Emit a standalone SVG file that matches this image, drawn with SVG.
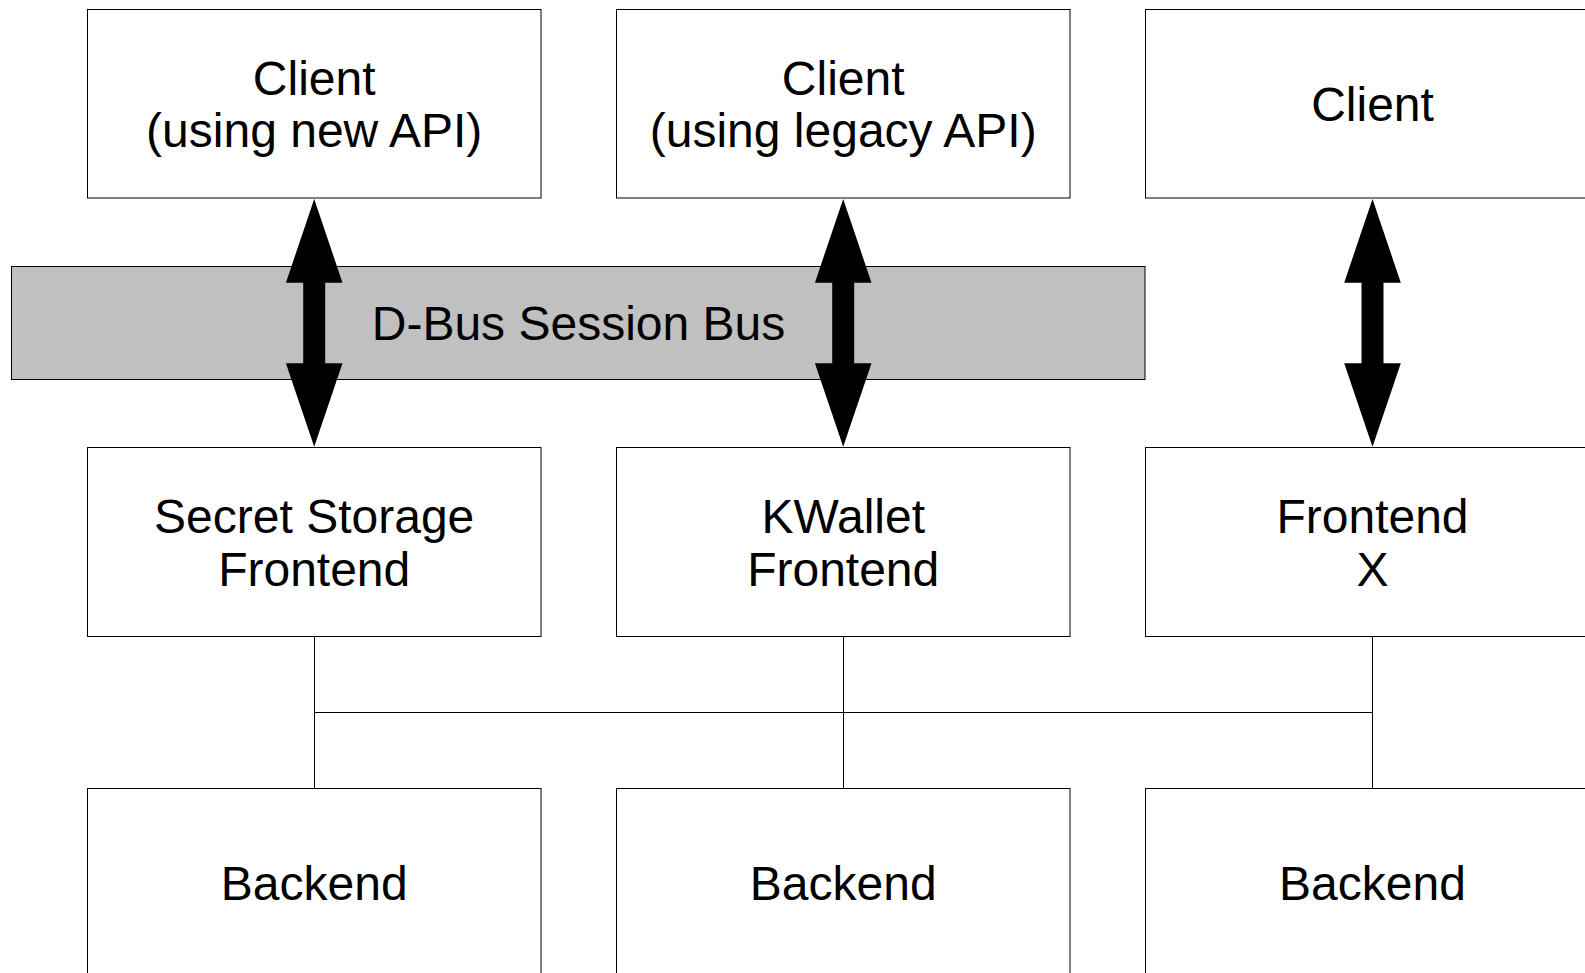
<svg xmlns="http://www.w3.org/2000/svg" xmlns:xlink="http://www.w3.org/1999/xlink" width="1585" height="973" viewBox="0 0 1585 973">
<style>
  .box { fill: #ffffff; stroke: #000000; stroke-width: 1; }
  .bus { fill: #c0c0c0; stroke: #000000; stroke-width: 1; }
  .lbl { font-family: "Liberation Sans", Arial, sans-serif; font-size: 48px; fill: #000000; text-anchor: middle; }
  .wire { stroke: #000000; stroke-width: 1; fill: none; }
  .arr { fill: #000000; stroke: none; }
</style>
<defs>
  <path id="dblarrow" d="M0,199 L28.3,282.7 L11,282.7 L11,363.3 L28.3,363.3 L0,446.7 L-28.3,363.3 L-11,363.3 L-11,282.7 L-28.3,282.7 Z"/>
</defs>
<rect width="1585" height="973" fill="#ffffff"/>

<g id="bus">
  <rect class="bus" x="11.5" y="266.5" width="1133.5" height="113"/>
  <text class="lbl" x="578.5" y="340.2">D-Bus Session Bus</text>
</g>

<g id="client-new">
  <rect class="box" x="87.5" y="9.5" width="453.5" height="188.5"/>
  <text class="lbl" x="314.2" y="94.7">Client</text>
  <text class="lbl" x="314.2" y="147.2">(using new API)</text>
</g>
<g id="client-legacy">
  <rect class="box" x="616.5" y="9.5" width="453.5" height="188.5"/>
  <text class="lbl" x="843.2" y="94.7">Client</text>
  <text class="lbl" x="843.2" y="147.2">(using legacy API)</text>
</g>
<g id="client">
  <rect class="box" x="1145.5" y="9.5" width="453.5" height="188.5"/>
  <text class="lbl" x="1372.5" y="121">Client</text>
</g>

<g id="frontend-secret">
  <rect class="box" x="87.5" y="447.5" width="453.5" height="189"/>
  <text class="lbl" x="314.2" y="533">Secret Storage</text>
  <text class="lbl" x="314.2" y="585.5">Frontend</text>
</g>
<g id="frontend-kwallet">
  <rect class="box" x="616.5" y="447.5" width="453.5" height="189"/>
  <text class="lbl" x="843.2" y="533">KWallet</text>
  <text class="lbl" x="843.2" y="585.5">Frontend</text>
</g>
<g id="frontend-x">
  <rect class="box" x="1145.5" y="447.5" width="453.5" height="189"/>
  <text class="lbl" x="1372.5" y="533">Frontend</text>
  <text class="lbl" x="1372.5" y="585.5">X</text>
</g>

<g id="backend-1">
  <rect class="box" x="87.5" y="788.5" width="453.5" height="188"/>
  <text class="lbl" x="314.2" y="899.5">Backend</text>
</g>
<g id="backend-2">
  <rect class="box" x="616.5" y="788.5" width="453.5" height="188"/>
  <text class="lbl" x="843.2" y="899.5">Backend</text>
</g>
<g id="backend-3">
  <rect class="box" x="1145.5" y="788.5" width="453.5" height="188"/>
  <text class="lbl" x="1372.5" y="899.5">Backend</text>
</g>

<g id="connectors">
  <use xlink:href="#dblarrow" class="arr" x="314.2" y="0"/>
  <use xlink:href="#dblarrow" class="arr" x="843.2" y="0"/>
  <use xlink:href="#dblarrow" class="arr" x="1372.5" y="0"/>
  <line class="wire" x1="314.5" y1="636.5" x2="314.5" y2="788.5"/>
  <line class="wire" x1="843.5" y1="636.5" x2="843.5" y2="788.5"/>
  <line class="wire" x1="1372.5" y1="636.5" x2="1372.5" y2="788.5"/>
  <line class="wire" x1="314.5" y1="712.5" x2="1372.5" y2="712.5"/>
</g>
</svg>
